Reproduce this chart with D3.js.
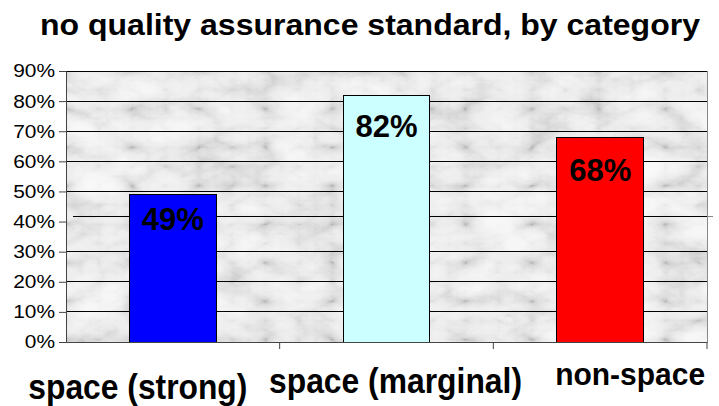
<!DOCTYPE html>
<html>
<head>
<meta charset="utf-8">
<script src="https://cdn.jsdelivr.net/npm/d3@7"></script>
<style>
  body { margin: 0; background: #fff; }
  text { font-family: "Liberation Sans", Arial, sans-serif; }
</style>
</head>
<body>
<div id="chart"></div>
<script>
// chart data
var categories = ['space (strong)', 'space (marginal)', 'non-space'];
var values = [0.49, 0.82, 0.68];
var barColors = ['#0000ff', '#ccffff', '#ff0000'];
var yTicks = [0, 0.1, 0.2, 0.3, 0.4, 0.5, 0.6, 0.7, 0.8, 0.9];
var titleText = 'no quality assurance standard, by category';

var W = 719, H = 406;
var margin = { top: 71, right: 12, bottom: 64, left: 66 };
var width = W - margin.left - margin.right,
  height = H - margin.top - margin.bottom;

var svg = d3.select('#chart').append('svg')
  .attr('width', W)
  .attr('height', H);

// stretch a text element horizontally to a width (the original text is squeezed/stretched)
function fitWidth(sel, w) {
  sel.each(function (d, i) {
    var target = typeof w === 'function' ? w.call(this, d, i) : w;
    d3.select(this)
      .attr('textLength', target)
      .attr('lengthAdjust', 'spacingAndGlyphs');
  });
}

// marble texture
var defs = svg.append('defs');
var f = defs.append('filter')
  .attr('id', 'marble')
  .attr('x', 0).attr('y', 0).attr('width', 1).attr('height', 1);
f.append('feTurbulence')
  .attr('type', 'turbulence')
  .attr('baseFrequency', '0.015 0.026')
  .attr('numOctaves', 5)
  .attr('seed', 11);
f.append('feColorMatrix')
  .attr('type', 'matrix')
  .attr('values', '0.33 0.33 0.33 0 0  0.33 0.33 0.33 0 0  0.33 0.33 0.33 0 0  0 0 0 0 1');
var ct = f.append('feComponentTransfer');
['feFuncR', 'feFuncG', 'feFuncB'].forEach(function (fn) {
  ct.append(fn).attr('type', 'table')
    .attr('tableValues', '0.45 0.7 0.84 0.92 0.95 0.97 0.98');
});

var g = svg.append('g')
  .attr('transform', 'translate(' + margin.left + ',' + margin.top + ')');

var x = d3.scaleBand().domain(categories).range([0, width])
  .paddingInner(0.595).paddingOuter(0.297);
var xb = d3.scaleBand().domain(categories).range([0, width]);
var y = d3.scaleLinear().domain([0, 0.9]).range([height, 0]);

g.append('rect')
  .attr('width', width)
  .attr('height', height)
  .attr('fill', '#eee')
  .attr('filter', 'url(#marble)');

// gridlines (the 40% one is offset in the original)
g.selectAll('.grid')
  .data(yTicks.filter(function (d) { return d > 0 && Math.abs(d - 0.4) > 1e-6; }))
  .enter().append('line')
  .attr('class', 'grid')
  .attr('x1', 0).attr('x2', width)
  .attr('y1', function (d) { return y(d); })
  .attr('y2', function (d) { return y(d); })
  .attr('stroke', '#000')
  .attr('stroke-width', 1)
  .attr('shape-rendering', 'crispEdges');

g.append('line')
  .attr('x1', 7).attr('x2', width)
  .attr('y1', y(0.416)).attr('y2', y(0.416))
  .attr('stroke', '#000')
  .attr('shape-rendering', 'crispEdges');
g.append('line')
  .attr('x1', width).attr('x2', width + 6)
  .attr('y1', y(0.416)).attr('y2', y(0.416))
  .attr('stroke', '#888')
  .attr('shape-rendering', 'crispEdges');

// right border
g.append('line')
  .attr('x1', width).attr('x2', width)
  .attr('y1', 0).attr('y2', height)
  .attr('stroke', '#888')
  .attr('shape-rendering', 'crispEdges');

// bars
g.selectAll('.bar')
  .data(values)
  .enter().append('rect')
  .attr('class', 'bar')
  .attr('x', function (d, i) { return x(categories[i]); })
  .attr('y', function (d) { return y(d); })
  .attr('width', x.bandwidth())
  .attr('height', function (d) { return height - y(d); })
  .attr('fill', function (d, i) { return barColors[i]; })
  .attr('stroke', '#000')
  .attr('stroke-width', 1)
  .attr('shape-rendering', 'crispEdges');

// value labels
var valDy = [36, 42, 44];
g.selectAll('.val')
  .data(values)
  .enter().append('text')
  .attr('class', 'val')
  .attr('x', function (d, i) { return x(categories[i]) + x.bandwidth() / 2; })
  .attr('y', function (d, i) { return y(d) + valDy[i]; })
  .attr('text-anchor', 'middle')
  .style('font-size', '31px')
  .style('font-weight', 'bold')
  .text(function (d) { return Math.round(d * 100) + '%'; });

// y axis
var yAxis = g.append('g')
  .call(d3.axisLeft(y).tickValues(yTicks).tickSize(7).tickPadding(4)
    .tickFormat(d3.format('.0%')));
yAxis.select('.domain').attr('stroke', '#444');
yAxis.selectAll('line').attr('stroke', '#444');
yAxis.selectAll('text')
  .style('font-size', '18.5px')
  .attr('fill', '#000')
  .call(fitWidth, function () { return this.getComputedTextLength() * 1.13; });

// x axis
var xAxis = g.append('g')
  .attr('transform', 'translate(0,' + height + ')')
  .call(d3.axisBottom(xb).tickSize(0).tickFormat(''));
xAxis.select('.domain').attr('stroke', '#444');
xAxis.selectAll('.tick').remove();
xAxis.selectAll('.sep')
  .data(categories)
  .enter().append('line')
  .attr('class', 'sep')
  .attr('x1', function (d) { return xb(d) + xb.bandwidth(); })
  .attr('x2', function (d) { return xb(d) + xb.bandwidth(); })
  .attr('y1', 0).attr('y2', 7)
  .attr('stroke', '#444');

// category labels (staggered like the original text boxes)
var labelDy = [57, 51, 43];
var labelDx = [-35, 9, 30];
var labelW = [219, 253, 150];
var labelSize = [35, 35, 32];
g.selectAll('.cat')
  .data(categories)
  .enter().append('text')
  .attr('class', 'cat')
  .attr('x', function (d, i) { return xb(d) + xb.bandwidth() / 2 + labelDx[i]; })
  .attr('y', function (d, i) { return height + labelDy[i]; })
  .attr('text-anchor', 'middle')
  .style('font-size', function (d, i) { return labelSize[i] + 'px'; })
  .style('font-weight', 'bold')
  .text(function (d) { return d; })
  .call(fitWidth, function (d, i) { return labelW[i]; });

// title
svg.append('text')
  .attr('x', 370)
  .attr('y', 35)
  .attr('text-anchor', 'middle')
  .style('font-size', '29px')
  .style('font-weight', 'bold')
  .text(titleText)
  .call(fitWidth, 660);
</script>
</body>
</html>
